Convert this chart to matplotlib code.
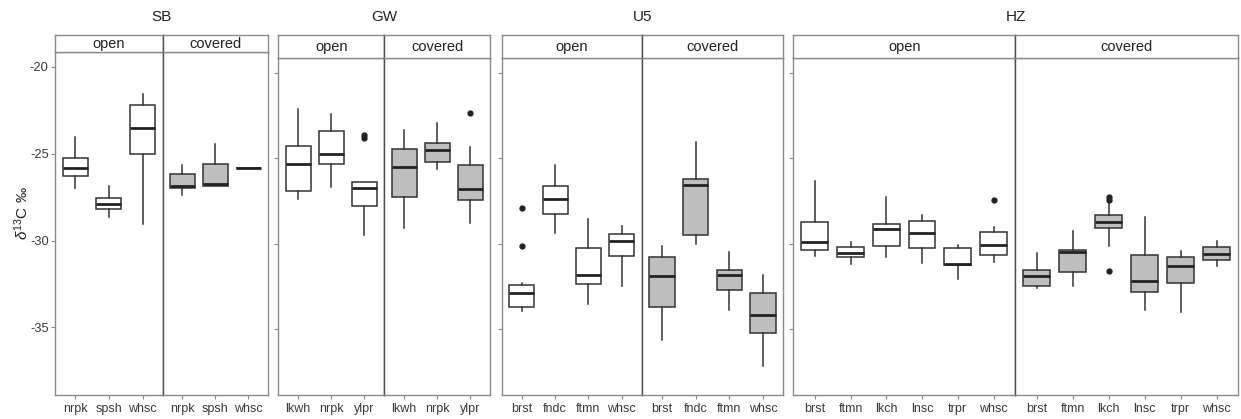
import matplotlib
matplotlib.use('Agg')
import matplotlib.pyplot as plt

plt.rcParams['font.family'] = ['Liberation Sans', 'DejaVu Sans']
plt.rcParams['mathtext.fontset'] = 'custom'
plt.rcParams['mathtext.rm'] = 'Liberation Sans'
plt.rcParams['mathtext.it'] = 'Liberation Sans:italic'
plt.rcParams['axes.unicode_minus'] = False

# Box summaries per species: [whisker low, Q1, median, Q3, whisker high]
SB_OPEN_LABELS = ['nrpk', 'spsh', 'whsc']
SB_OPEN = [[-26.98, -26.29, -25.81, -25.25, -24.04],
           [-28.63, -28.19, -27.90, -27.54, -26.87],
           [-29.04, -25.02, -23.50, -22.17, -21.54]]
SB_OPEN_OUT = [[], [], []]

SB_COV_LABELS = ['nrpk', 'spsh', 'whsc']
SB_COV = [[-27.40, -27.00, -26.83, -26.15, -25.63],
          [-26.83, -26.83, -26.75, -25.58, -24.46],
          [-25.83, -25.83, -25.83, -25.83, -25.83]]
SB_COV_OUT = [[], [], []]

GW_OPEN_LABELS = ['lkwh', 'nrpk', 'ylpr']
GW_OPEN = [[-27.38, -26.89, -25.31, -24.26, -22.09],
           [-26.70, -25.33, -24.73, -23.42, -22.38],
           [-29.49, -27.79, -26.72, -26.37, -26.37]]
GW_OPEN_OUT = [[], [], [-23.60, -23.80]]

GW_COV_LABELS = ['lkwh', 'nrpk', 'ylpr']
GW_COV = [[-29.08, -27.29, -25.51, -24.45, -23.34],
          [-25.61, -25.20, -24.49, -24.10, -22.95],
          [-28.79, -27.42, -26.78, -25.37, -24.34]]
GW_COV_OUT = [[], [], [-22.31]]

U5_OPEN_LABELS = ['brst', 'fndc', 'ftmn', 'whsc']
U5_OPEN = [[-33.99, -33.74, -32.92, -32.43, -32.30],
           [-29.38, -28.25, -27.41, -26.63, -25.37],
           [-33.56, -32.37, -31.85, -30.25, -28.56],
           [-32.47, -30.72, -29.86, -29.42, -28.95]]
U5_OPEN_OUT = [[-27.90, -30.12], [], [], []]

U5_COV_LABELS = ['brst', 'fndc', 'ftmn', 'whsc']
U5_COV = [[-35.64, -33.75, -31.91, -30.78, -30.16],
          [-30.00, -29.49, -26.54, -26.21, -24.01],
          [-33.89, -32.76, -31.85, -31.56, -30.49],
          [-37.20, -35.25, -34.18, -32.92, -31.85]]
U5_COV_OUT = [[], [], [], []]

HZ_OPEN_LABELS = ['brst', 'ftmn', 'lkch', 'lnsc', 'trpr', 'whsc']
HZ_OPEN = [[-30.75, -30.41, -29.92, -28.71, -26.31],
           [-31.18, -30.82, -30.53, -30.22, -29.92],
           [-30.80, -30.16, -29.16, -28.86, -27.24],
           [-31.16, -30.29, -29.41, -28.67, -28.31],
           [-32.10, -31.27, -31.18, -30.29, -30.10],
           [-31.08, -30.67, -30.08, -29.31, -29.04]]
HZ_OPEN_OUT = [[], [], [], [], [], [-27.44]]

HZ_COV_LABELS = ['brst', 'ftmn', 'lkch', 'lnsc', 'trpr', 'whsc']
HZ_COV = [[-32.61, -32.49, -31.92, -31.55, -30.55],
          [-32.47, -31.65, -30.47, -30.41, -29.24],
          [-30.12, -29.06, -28.71, -28.31, -27.45],
          [-33.92, -32.82, -32.22, -30.65, -28.47],
          [-34.02, -32.33, -31.31, -30.82, -30.45],
          [-31.35, -30.98, -30.59, -30.22, -29.86]]
HZ_COV_OUT = [[], [], [-27.25, -27.45, -31.61], [], [], []]

SITES = ['SB', 'GW', 'U5', 'HZ']
Y_TICKS = [-20, -25, -30, -35]
Y_LIM = (-38.9, -19.12)

W, H = 1241, 419
fig = plt.figure(figsize=(W / 100, H / 100), dpi=100)


def rect(x0, x1, y0, y1):
    return [x0 / W, 1 - y1 / H, (x1 - x0) / W, (y1 - y0) / H]


# pixel layout: (left, middle, right, top of plotting area)
LAYOUT = {
    'SB': (55.0, 162.7, 268.0, 51.7),
    'GW': (278.3, 384.3, 490.0, 58.3),
    'U5': (501.7, 641.7, 783.3, 58.3),
    'HZ': (793.3, 1015.0, 1238.3, 58.3),
}
STRIP_TOP = 35.0
PLOT_BOTTOM = 395.0

PANELS = {
    'SB': [(SB_OPEN_LABELS, SB_OPEN, SB_OPEN_OUT), (SB_COV_LABELS, SB_COV, SB_COV_OUT)],
    'GW': [(GW_OPEN_LABELS, GW_OPEN, GW_OPEN_OUT), (GW_COV_LABELS, GW_COV, GW_COV_OUT)],
    'U5': [(U5_OPEN_LABELS, U5_OPEN, U5_OPEN_OUT), (U5_COV_LABELS, U5_COV, U5_COV_OUT)],
    'HZ': [(HZ_OPEN_LABELS, HZ_OPEN, HZ_OPEN_OUT), (HZ_COV_LABELS, HZ_COV, HZ_COV_OUT)],
}
CONDITIONS = ['open', 'covered']
FILLS = ['white', '#bebebe']

BORDER = '#8a8a8a'
DIVIDER = '#4d4d4d'
EDGE = '#333333'
TEXT = '#222222'
TICKTEXT = '#3a3a3a'

for site in SITES:
    x0, xm, x1, top = LAYOUT[site]
    bounds = [(x0, xm), (xm, x1)]
    for k, (labels, stats, outs) in enumerate(PANELS[site]):
        a, b = bounds[k]
        ax = fig.add_axes(rect(a, b, top, PLOT_BOTTOM))
        bx = []
        for lab, s, o in zip(labels, stats, outs):
            bx.append(dict(label=lab, whislo=s[0], q1=s[1], med=s[2],
                           q3=s[3], whishi=s[4], fliers=o))
        n = len(labels)
        ax.bxp(bx, positions=list(range(1, n + 1)), widths=0.75,
               patch_artist=True, showcaps=False,
               boxprops=dict(facecolor=FILLS[k], edgecolor=EDGE, linewidth=1.1),
               medianprops=dict(color=TEXT, linewidth=2.0, solid_capstyle='butt'),
               whiskerprops=dict(color=EDGE, linewidth=1.1),
               flierprops=dict(marker='o', markerfacecolor=TEXT,
                               markeredgecolor=TEXT, markersize=3.5))
        ax.set_xlim(0.4, n + 0.6)
        ax.set_ylim(*Y_LIM)
        ax.set_yticks(Y_TICKS)
        for sp in ax.spines.values():
            sp.set_color(BORDER)
            sp.set_linewidth(1.0)
        if k == 0:
            ax.spines['right'].set_color(DIVIDER)
        else:
            ax.spines['left'].set_color(DIVIDER)
        ax.tick_params(axis='x', length=3, color=BORDER, labelsize=9,
                       labelcolor=TICKTEXT, pad=2.5)
        if k == 0:
            show_lab = site == 'SB'
            ax.tick_params(axis='y', length=3, color=BORDER, labelsize=9.3,
                           labelcolor=TICKTEXT, labelleft=show_lab, pad=1.5)
            if show_lab:
                ax.set_yticklabels([str(t) for t in Y_TICKS])
        else:
            ax.tick_params(axis='y', left=False, labelleft=False)
        ax.set_facecolor('white')

        # facet strip
        st = fig.add_axes(rect(a, b, STRIP_TOP, top))
        st.set_xticks([])
        st.set_yticks([])
        for sp in st.spines.values():
            sp.set_color(BORDER)
            sp.set_linewidth(1.0)
        if k == 0:
            st.spines['right'].set_color(DIVIDER)
        else:
            st.spines['left'].set_color(DIVIDER)
        st.text(0.5, 0.47, CONDITIONS[k], ha='center', va='center',
                fontsize=10.5, color=TEXT, transform=st.transAxes)

    fig.text(((x0 + x1) / 2) / W, 1 - 17 / H, site, ha='center', va='center',
             fontsize=11, color=TEXT)

fig.text(22 / W, 1 - 213 / H, r'$\delta^{13}$C ‰', rotation=90,
         ha='center', va='center', fontsize=11, color=TEXT)

fig.savefig('out.png', dpi=100, facecolor='white')
